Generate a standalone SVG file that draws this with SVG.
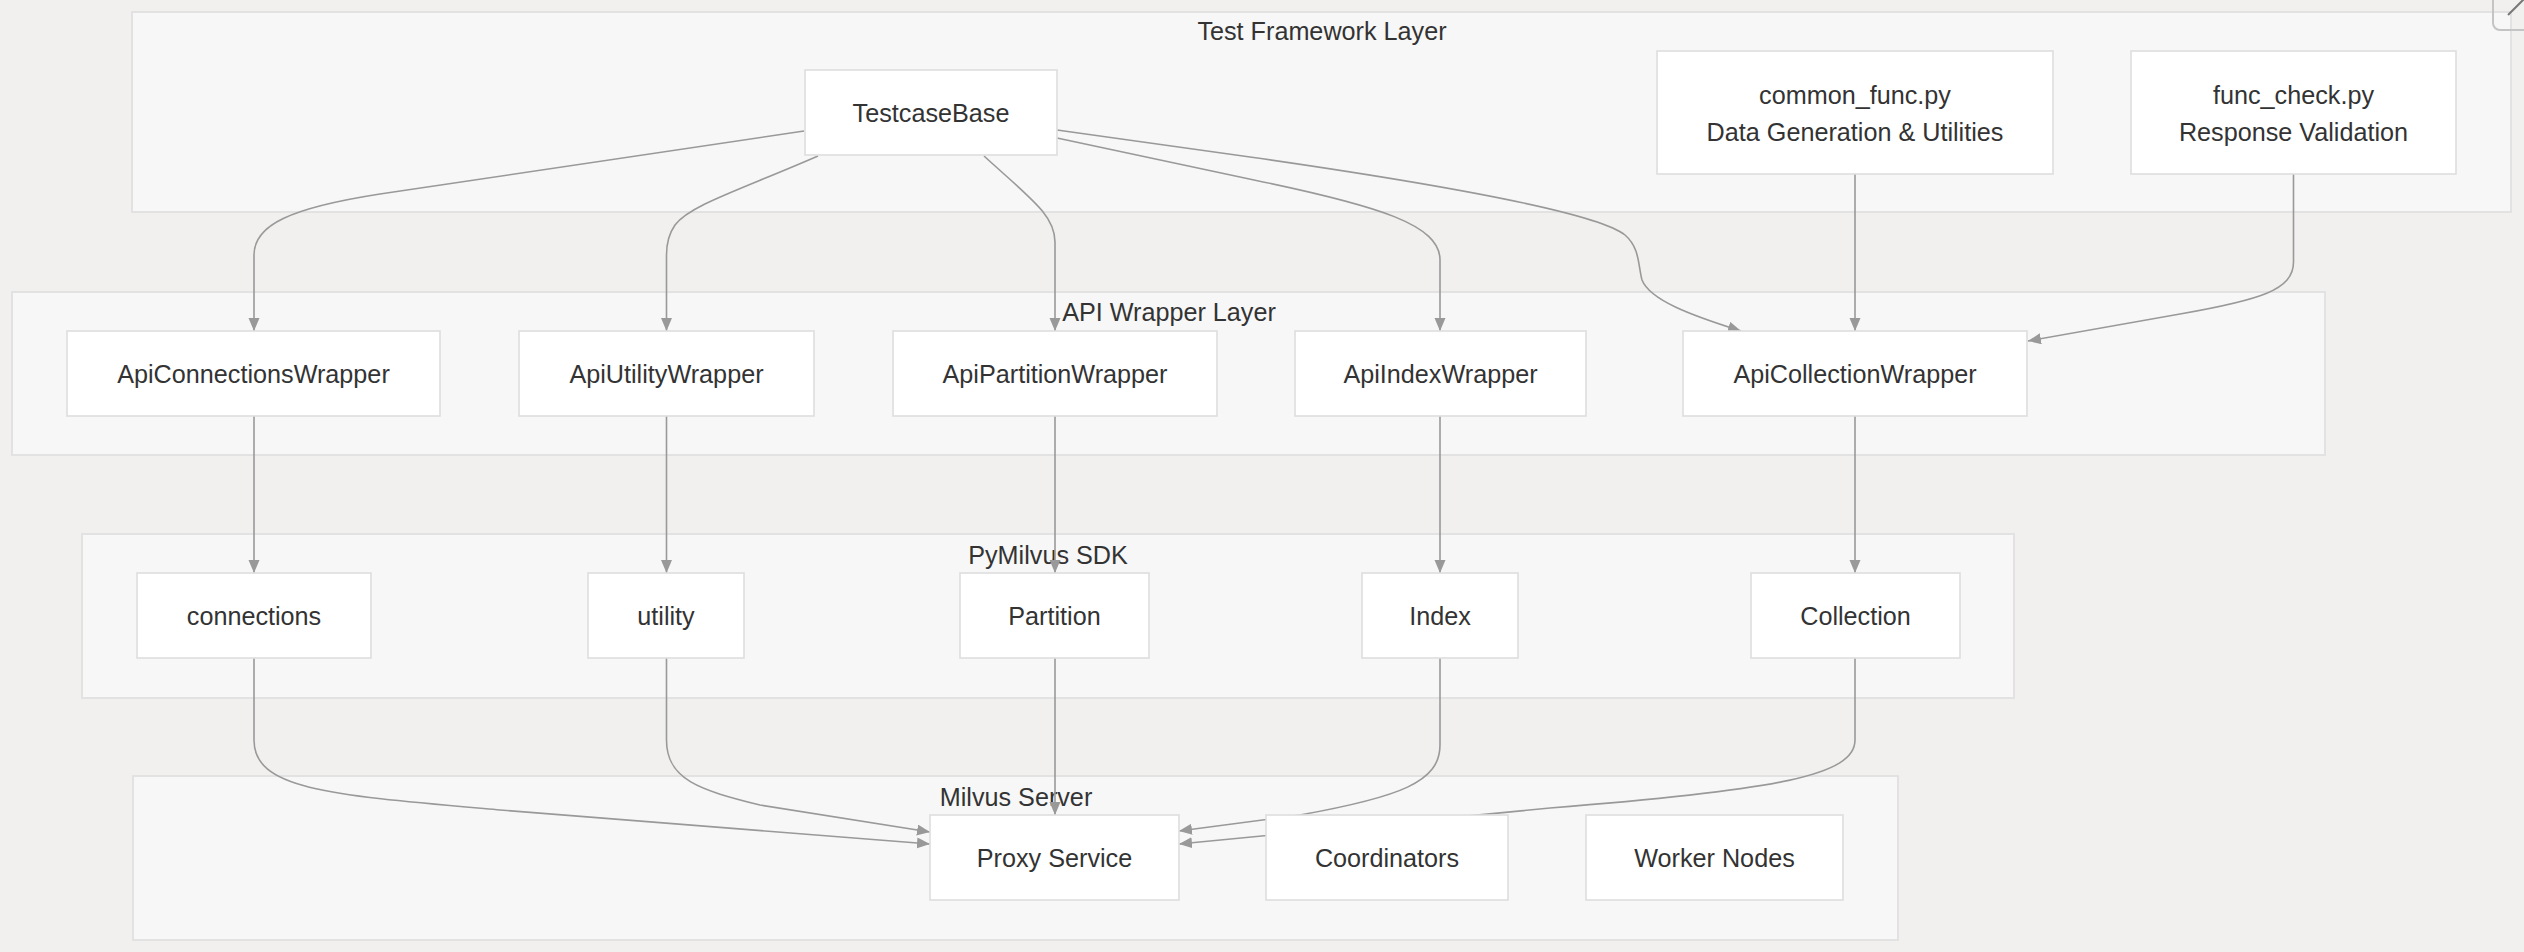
<svg xmlns="http://www.w3.org/2000/svg" width="2524" height="952" viewBox="0 0 2524 952">
<defs>
<marker id="arrow" markerUnits="userSpaceOnUse" markerWidth="14" markerHeight="12" refX="13" refY="5.5" orient="auto">
<path d="M0,0 L13,5.5 L0,11 z" fill="#999999"/>
</marker>
<style>
.cluster{fill:#f7f7f7;stroke:#e2e2e2;stroke-width:2}
.node rect{fill:#ffffff;stroke:#dedede;stroke-width:1.6}
.lbl{font-family:"Liberation Sans",Arial,sans-serif;font-size:25.2px;fill:#333333;text-anchor:middle;dominant-baseline:central}
.edge{fill:none;stroke:#999999;stroke-width:1.6;marker-end:url(#arrow)}
</style>
</defs>
<rect x="0" y="0" width="2524" height="952" fill="#f1f0ef"/>
<g id="clusters">
<g id="cluster-test-framework"><rect class="cluster" x="132" y="12" width="2379" height="200"/><text class="lbl" x="1322" y="31">Test Framework Layer</text></g>
<g id="cluster-api-wrapper"><rect class="cluster" x="12" y="292" width="2313" height="163"/><text class="lbl" x="1169" y="312">API Wrapper Layer</text></g>
<g id="cluster-pymilvus"><rect class="cluster" x="82" y="534" width="1932" height="164"/><text class="lbl" x="1048" y="555">PyMilvus SDK</text></g>
<g id="cluster-milvus-server"><rect class="cluster" x="133" y="776" width="1765" height="164"/><text class="lbl" x="1016" y="797">Milvus Server</text></g>
</g>
<g id="connectors">
<path class="edge" d="M804,131 L380,194 C290,208 254,225 254,255 L254,331"/>
<path class="edge" d="M818,156 C740,190 690,205 675,225 C668,235 666.5,245 666.5,255 L666.5,331"/>
<path class="edge" d="M984,156 C1030,198 1055,215 1055,242 L1055,331"/>
<path class="edge" d="M1057,138 L1254,180 C1380,206 1440,225 1440,260 L1440,331"/>
<path class="edge" d="M1057,130 L1250,157 C1480,190 1600,215 1625,235 C1640,248 1638,265 1642,280 C1650,300 1690,315 1741,331"/>
<path class="edge" d="M1855,174 L1855,331"/>
<path class="edge" d="M2293.5,174 L2293.5,262 C2293.5,290 2260,300 2180,314 L2028,341"/>
<path class="edge" d="M254,416 L254,573"/>
<path class="edge" d="M666.5,416 L666.5,573"/>
<path class="edge" d="M1055,416 L1055,573"/>
<path class="edge" d="M1440,416 L1440,573"/>
<path class="edge" d="M1855,416 L1855,573"/>
<path class="edge" d="M254,658 L254,740 C254,790 330,795 500,810 L930,844"/>
<path class="edge" d="M666.5,658 L666.5,740 C666.5,780 700,790 760,805 L930,832"/>
<path class="edge" d="M1055,658 L1055,815"/>
<path class="edge" d="M1440,658 L1440,745 C1440,782 1400,797 1300,815 L1179,831"/>
<path class="edge" d="M1855,658 L1855,740 C1855,775 1780,790 1550,808 L1179,844"/>
</g>
<g id="nodes">
<g id="TestcaseBase" class="node"><rect x="805" y="70" width="252" height="85"/><text class="lbl" x="931" y="112.5">TestcaseBase</text></g>
<g id="common_func" class="node"><rect x="1657" y="51" width="396" height="123"/><text class="lbl" x="1855" y="95">common_func.py</text><text class="lbl" x="1855" y="132">Data Generation &amp; Utilities</text></g>
<g id="func_check" class="node"><rect x="2131" y="51" width="325" height="123"/><text class="lbl" x="2293.5" y="95">func_check.py</text><text class="lbl" x="2293.5" y="132">Response Validation</text></g>
<g id="ApiConnectionsWrapper" class="node"><rect x="67" y="331" width="373" height="85"/><text class="lbl" x="253.5" y="373.5">ApiConnectionsWrapper</text></g>
<g id="ApiUtilityWrapper" class="node"><rect x="519" y="331" width="295" height="85"/><text class="lbl" x="666.5" y="373.5">ApiUtilityWrapper</text></g>
<g id="ApiPartitionWrapper" class="node"><rect x="893" y="331" width="324" height="85"/><text class="lbl" x="1055" y="373.5">ApiPartitionWrapper</text></g>
<g id="ApiIndexWrapper" class="node"><rect x="1295" y="331" width="291" height="85"/><text class="lbl" x="1440.5" y="373.5">ApiIndexWrapper</text></g>
<g id="ApiCollectionWrapper" class="node"><rect x="1683" y="331" width="344" height="85"/><text class="lbl" x="1855" y="373.5">ApiCollectionWrapper</text></g>
<g id="connections" class="node"><rect x="137" y="573" width="234" height="85"/><text class="lbl" x="254" y="615.5">connections</text></g>
<g id="utility" class="node"><rect x="588" y="573" width="156" height="85"/><text class="lbl" x="666" y="615.5">utility</text></g>
<g id="Partition" class="node"><rect x="960" y="573" width="189" height="85"/><text class="lbl" x="1054.5" y="615.5">Partition</text></g>
<g id="Index" class="node"><rect x="1362" y="573" width="156" height="85"/><text class="lbl" x="1440" y="615.5">Index</text></g>
<g id="Collection" class="node"><rect x="1751" y="573" width="209" height="85"/><text class="lbl" x="1855.5" y="615.5">Collection</text></g>
<g id="ProxyService" class="node"><rect x="930" y="815" width="249" height="85"/><text class="lbl" x="1054.5" y="857.5">Proxy Service</text></g>
<g id="Coordinators" class="node"><rect x="1266" y="815" width="242" height="85"/><text class="lbl" x="1387" y="857.5">Coordinators</text></g>
<g id="WorkerNodes" class="node"><rect x="1586" y="815" width="257" height="85"/><text class="lbl" x="1714.5" y="857.5">Worker Nodes</text></g>
</g>
<g id="close-button">
<rect x="2493" y="-12" width="44" height="42" rx="7" fill="none" stroke="#c4c4c4" stroke-width="2"/>
<line x1="2508" y1="15" x2="2530" y2="-7" stroke="#777777" stroke-width="2"/>
</g>
</svg>
